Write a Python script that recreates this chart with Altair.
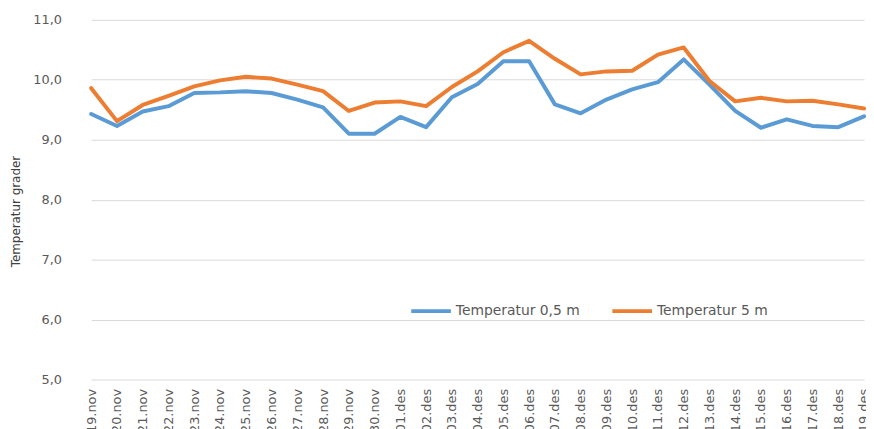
import altair as alt
import pandas as pd

dates = ["19.nov", "20.nov", "21.nov", "22.nov", "23.nov", "24.nov", "25.nov", "26.nov",
         "27.nov", "28.nov", "29.nov", "30.nov", "01.des", "02.des", "03.des", "04.des",
         "05.des", "06.des", "07.des", "08.des", "09.des", "10.des", "11.des", "12.des",
         "13.des", "14.des", "15.des", "16.des", "17.des", "18.des", "19.des"]

temp_05 = [9.43, 9.23, 9.47, 9.56, 9.78, 9.79, 9.81, 9.78, 9.67, 9.54, 9.10, 9.10,
           9.38, 9.21, 9.71, 9.93, 10.31, 10.31, 9.59, 9.44, 9.67, 9.84, 9.96, 10.34,
           9.92, 9.48, 9.20, 9.34, 9.23, 9.21, 9.39]

temp_5 = [9.86, 9.31, 9.58, 9.73, 9.89, 9.99, 10.05, 10.02, 9.92, 9.81, 9.48, 9.62,
          9.64, 9.56, 9.88, 10.14, 10.46, 10.65, 10.35, 10.09, 10.14, 10.15, 10.42, 10.54,
          9.98, 9.64, 9.70, 9.64, 9.65, 9.59, 9.52]

series_names = ["Temperatur 0,5 m", "Temperatur 5 m"]
series_colors = ["#5B9BD5", "#ED7D31"]
y_ticks = [5, 6, 7, 8, 9, 10, 11]

rows = []
for name, vals in zip(series_names, [temp_05, temp_5]):
    for d, v in zip(dates, vals):
        rows.append({"dato": d, "serie": name, "temp": v})
df = pd.DataFrame(rows)

FONT = "DejaVu Sans"
GREY = "#595959"

chart = alt.Chart(df).mark_line(strokeWidth=4, strokeJoin="round", strokeCap="round").encode(
    x=alt.X("dato:N", sort=dates, title=None,
            scale=alt.Scale(type="point", range=[13, 793], padding=0),
            axis=alt.Axis(labelAngle=270, labelPadding=9, ticks=False, domain=False,
                          grid=False, labelFont=FONT, labelFontSize=13, labelColor=GREY)),
    y=alt.Y("temp:Q", title="Temperatur grader",
            scale=alt.Scale(domain=[5, 11], nice=False, zero=False),
            axis=alt.Axis(values=y_ticks, ticks=False, domain=False, grid=True,
                          gridColor="#d9d9d9", gridWidth=1,
                          labelExpr="replace(format(datum.value, '.1f'), '.', ',')",
                          labelPadding=17, labelFont=FONT, labelFontSize=13, labelColor=GREY,
                          titleFont=FONT, titleFontSize=12, titleColor="#404040",
                          titleFontWeight="normal", titleX=-56, titleY=193,
                          titleAngle=270, titleBaseline="bottom", titleAlign="center")),
    color=alt.Color("serie:N", sort=series_names,
                    scale=alt.Scale(domain=series_names, range=series_colors),
                    legend=alt.Legend(title=None, orient="none", legendX=334, legendY=272,
                                      direction="horizontal", symbolType="stroke",
                                      symbolSize=1600, symbolStrokeWidth=4,
                                      labelOffset=3, columnPadding=24, padding=0,
                                      labelFont=FONT, labelFontSize=14, labelColor=GREY)),
).properties(
    width=795,
    height=363,
    autosize=alt.AutoSizeParams(type="none"),
    padding={"left": 71, "top": 10, "right": 0, "bottom": 48},
).configure_view(stroke=None)

chart.save("out.html", embed_options={"renderer": "svg", "actions": False})
